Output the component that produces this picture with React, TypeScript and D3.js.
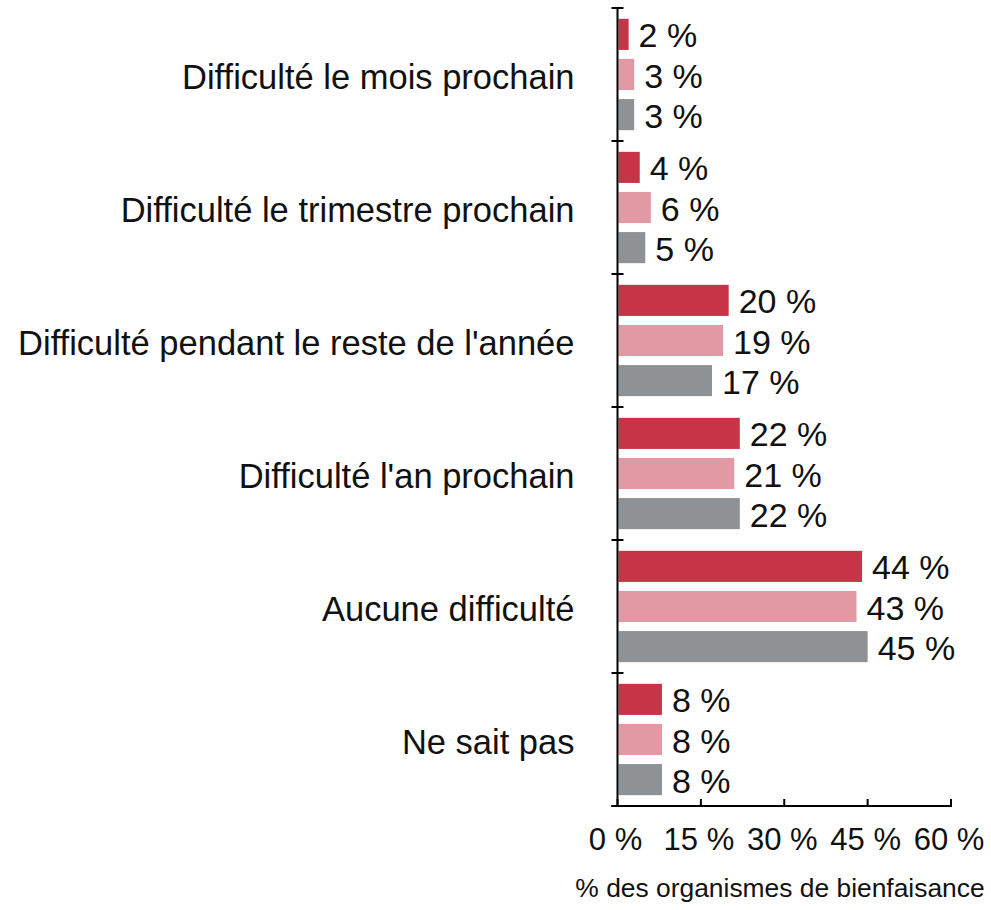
import React, { useEffect, useRef } from 'react'
import * as d3 from 'd3'

const categories = [
  'Difficulté le mois prochain',
  'Difficulté le trimestre prochain',
  "Difficulté pendant le reste de l'année",
  "Difficulté l'an prochain",
  'Aucune difficulté',
  'Ne sait pas',
]
const seriesNames = ['s1', 's2', 's3']
const seriesColors = ['#c73347', '#e299a4', '#8f9295']
const values1 = [2, 4, 20, 22, 44, 8]
const values2 = [3, 6, 19, 21, 43, 8]
const values3 = [3, 5, 17, 22, 45, 8]
const xTicks = [0, 15, 30, 45, 60]
const xTitle = '% des organismes de bienfaisance'

const width = 991
const height = 910
const font = '"Liberation Sans", Arial, Helvetica, sans-serif'

export default function App() {
  const svgRef = useRef<SVGSVGElement>(null)

  useEffect(() => {
    const svg = d3.select(svgRef.current)
    svg.selectAll('*').remove()

    const left = 617.5
    const right = 951
    const top = 8
    const bottom = 806

    const x = d3.scaleLinear().domain([0, 60]).range([left, right])
    const y = d3.scaleBand<string>().domain(categories).range([top, bottom]).padding(0)
    const inner = d3
      .scaleBand<string>()
      .domain(seriesNames)
      .range([0, y.bandwidth()])
      .paddingInner(0.225)
      .paddingOuter(0.27)

    const allValues = [values1, values2, values3]
    const g = svg.append('g')

    categories.forEach((cat, i) => {
      seriesNames.forEach((s, j) => {
        const v = allValues[j][i]
        const by = (y(cat) || 0) + (inner(s) || 0)
        g.append('rect')
          .attr('x', x(0) + 1)
          .attr('y', by)
          .attr('width', x(v) - x(0) - 1)
          .attr('height', inner.bandwidth())
          .attr('fill', seriesColors[j])
        g.append('text')
          .attr('x', x(v) + 10)
          .attr('y', by + inner.bandwidth() / 2 + 1)
          .attr('dominant-baseline', 'central')
          .attr('font-family', font)
          .attr('font-size', 34)
          .attr('fill', '#111')
          .text(`${v} %`)
      })
      g.append('text')
        .attr('x', left - 43)
        .attr('y', (y(cat) || 0) + y.bandwidth() / 2 + 2)
        .attr('dominant-baseline', 'central')
        .attr('text-anchor', 'end')
        .attr('font-family', font)
        .attr('font-size', 34.5)
        .attr('fill', '#111')
        .text(cat)
    })

    // left axis line and category separator ticks
    g.append('line')
      .attr('x1', left).attr('x2', left)
      .attr('y1', top).attr('y2', bottom)
      .attr('stroke', '#000').attr('stroke-width', 2)
    const boundaries = categories.map((c) => y(c) || 0).concat([bottom])
    boundaries.forEach((b) => {
      g.append('line')
        .attr('x1', left - 6).attr('x2', left + 6)
        .attr('y1', b).attr('y2', b)
        .attr('stroke', '#000').attr('stroke-width', 2)
    })

    // bottom axis
    g.append('line')
      .attr('x1', left - 6).attr('x2', right + 1)
      .attr('y1', bottom).attr('y2', bottom)
      .attr('stroke', '#000').attr('stroke-width', 2)
    xTicks.forEach((t) => {
      g.append('line')
        .attr('x1', x(t)).attr('x2', x(t))
        .attr('y1', bottom).attr('y2', bottom - 7)
        .attr('stroke', '#000').attr('stroke-width', 2)
      g.append('text')
        .attr('x', x(t) - 2)
        .attr('y', 850)
        .attr('text-anchor', 'middle')
        .attr('font-family', font)
        .attr('font-size', 31)
        .attr('fill', '#111')
        .text(`${t} %`)
    })

    g.append('text')
      .attr('x', 780)
      .attr('y', 897)
      .attr('text-anchor', 'middle')
      .attr('font-family', font)
      .attr('font-size', 26.4)
      .attr('fill', '#111')
      .text(xTitle)
  }, [])

  return (
    <svg
      ref={svgRef}
      width={width}
      height={height}
      style={{ position: 'absolute', left: 0, top: 0, display: 'block', background: '#fff' }}
    />
  )
}
